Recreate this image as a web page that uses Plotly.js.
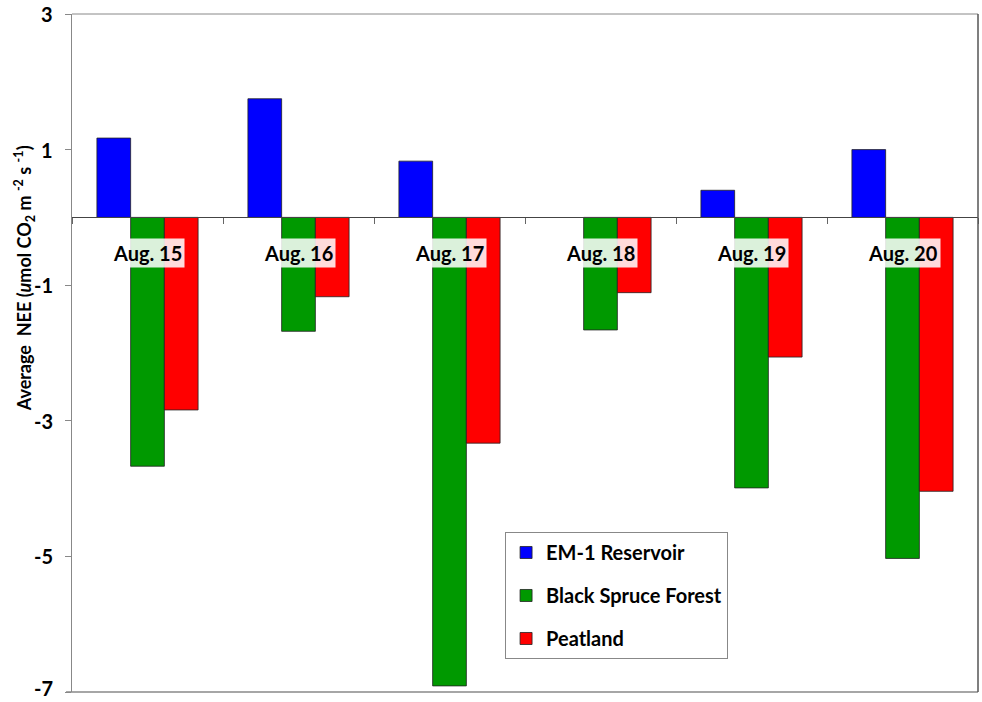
<!DOCTYPE html>
<html>
<head>
<meta charset="utf-8">
<script src="https://cdn.plot.ly/plotly-3.0.1.min.js"></script>
<style>html,body{margin:0;padding:0;background:#fff;}#chart{width:982px;height:702px;}</style>
</head>
<body>
<div id="chart"></div>
<script>
const categories = ["Aug. 15", "Aug. 16", "Aug. 17", "Aug. 18", "Aug. 19", "Aug. 20"];
const reservoir = [1.17, 1.75, 0.83, null, 0.40, 1.00];
const spruce = [-3.67, -1.68, -6.91, -1.66, -3.99, -5.03];
const peatland = [-2.84, -1.17, -3.33, -1.11, -2.06, -4.04];
const seriesNames = ["EM-1 Reservoir", "Black Spruce Forest", "Peatland"];
const seriesColors = ["#0000FF", "#009900", "#FF0000"];
const yTicks = [3, 1, -1, -3, -5, -7];

const FONT = "Lato, 'Open Sans', sans-serif";
const seriesData = [reservoir, spruce, peatland];
const traces = seriesData.map((vals, i) => ({
  type: "bar",
  x: categories,
  y: vals,
  name: "<b>" + seriesNames[i] + "</b>",
  legendgroup: "g" + i,
  marker: {color: seriesColors[i], line: {color: "#222", width: 0.8}}
}));

const annotations = categories.map(c => ({
  x: c, y: 0, xref: "x", yref: "y",
  text: "<b>" + c + "</b>", showarrow: false, yshift: -36,
  bgcolor: "rgba(255,255,255,0.86)",
  font: {family: FONT, size: 20, color: "#000"},
  borderpad: 2
}));
const yMin = Math.min(...yTicks);
yTicks.forEach(v => annotations.push({
  xref: "paper", yref: "y", x: 0, y: v, xshift: -18,
  yshift: v === yMin ? -9 : 0,
  xanchor: "right", yanchor: v === yMin ? "bottom" : "middle", showarrow: false,
  text: "<b>" + v + "</b>", borderpad: 0,
  font: {family: FONT, size: 20, color: "#000"}
}));
annotations.push({
  xref: "paper", yref: "paper", x: -0.052, y: 0.61,
  xanchor: "center", yanchor: "middle", textangle: -90, showarrow: false,
  text: "<b>Average  NEE (<i>u</i>mol CO<sub>2</sub> m <sup>-2</sup> s <sup>-1</sup>)</b>",
  font: {family: FONT, size: 18, color: "#000"}
});

const layout = {
  width: 982, height: 702,
  margin: {l: 72, r: 4, t: 14, b: 10},
  paper_bgcolor: "#fff", plot_bgcolor: "#fff",
  barmode: "group", bargap: 0.33, bargroupgap: 0,
  showlegend: true,
  legend: {
    x: 0.478, y: 0.236, xanchor: "left", yanchor: "top",
    bordercolor: "#888", borderwidth: 1, bgcolor: "#fff",
    font: {family: FONT, size: 20, color: "#000"},
    tracegroupgap: 14, itemwidth: 30
  },
  xaxis: {
    type: "category", anchor: "free", position: 0.7,
    showticklabels: false, ticks: "outside", tickson: "boundaries",
    ticklen: 6, tickcolor: "#666", showline: true, linecolor: "#444", linewidth: 1,
    showgrid: false, zeroline: false, fixedrange: true
  },
  yaxis: {
    range: [-7, 3], tickvals: yTicks, showticklabels: false,
    ticks: "outside", ticklen: 6, tickcolor: "#888",
    showline: true, linecolor: "#888", linewidth: 1,
    showgrid: false, zeroline: false
  },
  shapes: [
    {type: "line", xref: "paper", yref: "paper", x0: 0, x1: 1, y0: 1, y1: 1, line: {color: "#888", width: 1}},
    {type: "line", xref: "paper", yref: "paper", x0: -0.0066, x1: 1, y0: 0, y1: 0, line: {color: "#888", width: 1.5}},
    {type: "line", xref: "paper", yref: "paper", x0: 1, x1: 1, y0: 0, y1: 1, line: {color: "#555", width: 1.5}}
  ],
  annotations: annotations
};

Plotly.newPlot("chart", traces, layout, {displayModeBar: false, staticPlot: true});
</script>
</body>
</html>
